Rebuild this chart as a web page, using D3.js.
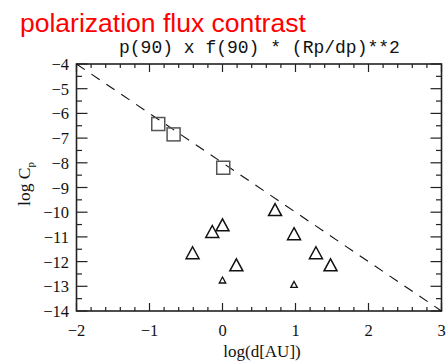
<!DOCTYPE html>
<html><head><meta charset="utf-8">
<script src="https://cdn.jsdelivr.net/npm/d3@7"></script>
<style>html,body{margin:0;padding:0;background:#fff;}</style>
</head><body>
<svg id="c" width="448" height="362"></svg>
<script>
const xTicks = [-2, -1, 0, 1, 2, 3];
const yTicks = [-4, -5, -6, -7, -8, -9, -10, -11, -12, -13, -14];
const squareX = [-0.88, -0.67, 0.01];
const squareY = [-6.43, -6.85, -8.2];
const triX = [-0.41, -0.14, 0.0, 0.19, 0.72, 0.98, 1.28, 1.48];
const triY = [-11.69, -10.83, -10.56, -12.18, -9.94, -10.92, -11.69, -12.18];
const smallTriX = [0.0, 0.98];
const smallTriY = [-12.77, -12.95];
const lineX = [-2, 3];
const lineY = [-4, -14];

const svg = d3.select("#c");
const L = 76.5, R = 441.5, T = 64, B = 311;
const x = d3.scaleLinear().domain([-2, 3]).range([L, R]);
const y = d3.scaleLinear().domain([-4, -14]).range([T, B]);
const serif = "'Liberation Serif', 'DejaVu Serif', serif";
const fmt = d => (d < 0 ? "\u2212" + Math.abs(d) : String(d));

svg.append("text").attr("x", 20).attr("y", 32)
  .attr("font-family", "'Liberation Sans', Arial, sans-serif").attr("font-size", 26.5)
  .attr("fill", "#ff0000").text("polarization flux contrast");
svg.append("text").attr("x", 119).attr("y", 53)
  .attr("font-family", "'Liberation Mono', 'DejaVu Sans Mono', monospace").attr("font-size", 18)
  .attr("fill", "#111").text("p(90) x f(90) * (Rp/dp)**2");

const xMinor = d3.range(-2, 3.001, 0.2).map(v => +v.toFixed(2));
const yMinor = d3.range(-14, -3.999, 0.5).map(v => +v.toFixed(2));
const isInt = v => Math.abs(v - Math.round(v)) < 1e-6;

const g = svg.append("g").attr("stroke", "#222").attr("stroke-width", 1.2);
xMinor.forEach(v => {
  const len = isInt(v) ? 8 : 4;
  g.append("line").attr("x1", x(v)).attr("x2", x(v)).attr("y1", B).attr("y2", B - len);
  g.append("line").attr("x1", x(v)).attr("x2", x(v)).attr("y1", T).attr("y2", T + len);
});
yMinor.forEach(v => {
  const len = isInt(v) ? 11 : 5.5;
  g.append("line").attr("y1", y(v)).attr("y2", y(v)).attr("x1", L).attr("x2", L + len);
  g.append("line").attr("y1", y(v)).attr("y2", y(v)).attr("x1", R).attr("x2", R - len);
});
svg.append("rect").attr("x", L).attr("y", T).attr("width", R - L).attr("height", B - T)
  .attr("fill", "none").attr("stroke", "#222").attr("stroke-width", 1.6);

svg.append("g").selectAll("text").data(xTicks).join("text")
  .attr("x", d => x(d)).attr("y", 335.5).attr("text-anchor", "middle")
  .attr("font-family", serif).attr("font-size", 16.5).attr("fill", "#111").text(fmt);
svg.append("g").selectAll("text").data(yTicks).join("text")
  .attr("x", 69).attr("y", d => y(d) + 6).attr("text-anchor", "end")
  .attr("font-family", serif).attr("font-size", 16.5).attr("fill", "#111").text(fmt);

svg.append("text").attr("x", 262).attr("y", 356.5).attr("text-anchor", "middle")
  .attr("font-family", serif).attr("font-size", 17).attr("fill", "#111").text("log(d[AU])");
const yt = svg.append("text").attr("transform", "translate(30,184) rotate(-90)")
  .attr("text-anchor", "middle").attr("font-family", serif).attr("font-size", 17.5).attr("fill", "#111");
yt.append("tspan").text("log C");
yt.append("tspan").attr("font-size", 11).attr("dy", 4).text("p");

const lineData = lineX.map((v, i) => [v, lineY[i]]);
svg.append("path").datum(lineData)
  .attr("d", d3.line().x(d => x(d[0])).y(d => y(d[1])))
  .attr("fill", "none").attr("stroke", "#111").attr("stroke-width", 1.1)
  .attr("stroke-dasharray", "10,8");

const sq = 13;
svg.append("g").selectAll("rect").data(squareX.map((v, i) => [v, squareY[i]])).join("rect")
  .attr("x", d => x(d[0]) - sq / 2).attr("y", d => y(d[1]) - sq / 2)
  .attr("width", sq).attr("height", sq).attr("fill", "none")
  .attr("stroke", "#555").attr("stroke-width", 1.5);

function tri(w, h) {
  return `M0,${-h * 0.6}L${w / 2},${h * 0.4}L${-w / 2},${h * 0.4}Z`;
}
svg.append("g").selectAll("path").data(triX.map((v, i) => [v, triY[i]])).join("path")
  .attr("transform", d => `translate(${x(d[0])},${y(d[1])})`)
  .attr("d", tri(13, 12)).attr("fill", "none").attr("stroke", "#111").attr("stroke-width", 1.5);
svg.append("g").selectAll("path").data(smallTriX.map((v, i) => [v, smallTriY[i]])).join("path")
  .attr("transform", d => `translate(${x(d[0])},${y(d[1])})`)
  .attr("d", tri(6.5, 6)).attr("fill", "none").attr("stroke", "#111").attr("stroke-width", 1.3);
</script>
</body></html>
